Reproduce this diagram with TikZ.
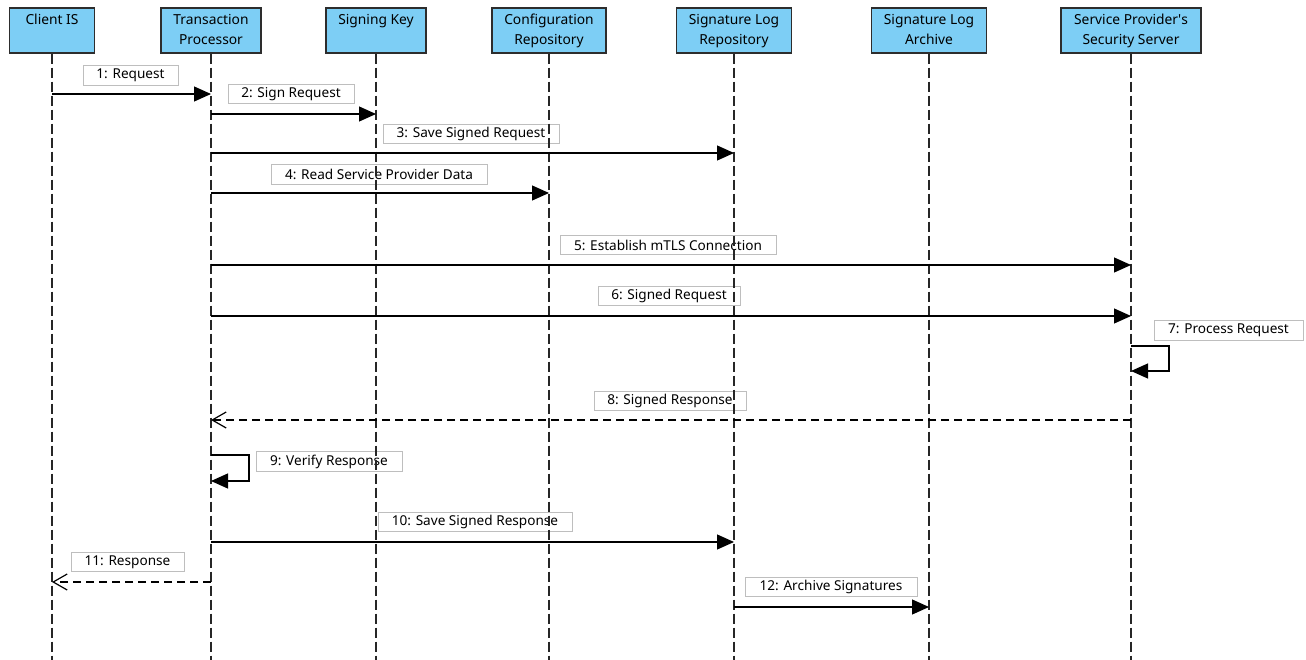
\documentclass[tikz,border=0pt]{standalone}
\usepackage{fontspec}
\setmainfont{Noto Sans}
\usetikzlibrary{arrows.meta}
\definecolor{headblue}{RGB}{125,206,245}
\definecolor{headline}{RGB}{45,45,45}
\definecolor{labelline}{RGB}{190,190,190}

\begin{document}
\begin{tikzpicture}[x=1pt,y=-1pt,
  actor/.style={draw=headline, line width=1.2pt, fill=headblue, minimum height=45pt,
                inner sep=0pt, align=center, font=\fontsize{13.8}{20}\selectfont},
  lifeline/.style={draw=black!85, line width=1.3pt, dash pattern=on 10pt off 4pt},
  msglabel/.style={draw=labelline, line width=0.8pt, fill=white, minimum height=19.5pt,
                   inner sep=0pt, font=\fontsize{13.6}{16}\selectfont},
  call/.style={draw=black, line width=1.2pt, -{Triangle[length=17pt,width=15pt]}},
  reply/.style={draw=black, line width=1.2pt, dash pattern=on 8pt off 5pt,
                -{Straight Barb[length=14pt,width=16pt,line width=1.2pt]}},
]
\useasboundingbox (0,0) rectangle (1306,660);

% participants (each line carries a strut so the two-line blocks sit alike)
\node[actor, minimum width=85pt]  (ci)  at (52,30.5)   {Client IS\strut\\\strut};
\node[actor, minimum width=100pt] (tp)  at (211,30.5)  {Transaction\strut\\Processor\strut};
\node[actor, minimum width=100pt] (sk)  at (376,30.5)  {Signing Key\strut\\\strut};
\node[actor, minimum width=114pt] (cr)  at (549,30.5)  {Configuration\strut\\Repository\strut};
\node[actor, minimum width=115pt] (slr) at (734,30.5)  {Signature Log\strut\\Repository\strut};
\node[actor, minimum width=115pt] (sla) at (929,30.5)  {Signature Log\strut\\Archive\strut};
\node[actor, minimum width=140pt] (ss)  at (1131,30.5) {Service Provider\textquotesingle s\strut\\Security Server\strut};

% message labels
\node[msglabel, minimum width=95pt]  (l1)  at (130.5,75.5)  {1: Request};
\node[msglabel, minimum width=126pt] (l2)  at (291,94)      {2: Sign Request};
\node[msglabel, minimum width=176pt] (l3)  at (471,134)     {3: Save Signed Request};
\node[msglabel, minimum width=216pt] (l4)  at (379,174.5)   {4: Read Service Provider Data};
\node[msglabel, minimum width=216pt] (l5)  at (668,245)     {5: Establish mTLS Connection};
\node[msglabel, minimum width=142pt] (l6)  at (669,296)     {6: Signed Request};
\node[msglabel, minimum width=149pt] (l7)  at (1228.5,330.5){7: Process Request};
\node[msglabel, minimum width=152pt] (l8)  at (670,401)     {8: Signed Response};
\node[msglabel, minimum width=146pt] (l9)  at (329,461.5)   {9: Verify Response};
\node[msglabel, minimum width=194pt] (l10) at (475,522)     {10: Save Signed Response};
\node[msglabel, minimum width=113pt] (l11) at (127.5,562)   {11: Response};
\node[msglabel, minimum width=172pt] (l12) at (831,587)     {12: Archive Signatures};

% lifelines
\foreach \p in {ci,tp,sk,cr,slr,sla,ss}{
  \coordinate (\p-end) at (\p.south |- 0,660);
  \draw[lifeline] (\p.south) -- (\p-end);
}

% messages
\draw[call]  (ci |- 0,94)   -- (tp |- 0,94);
\draw[call]  (tp |- 0,114)  -- (sk |- 0,114);
\draw[call]  (tp |- 0,153)  -- (slr |- 0,153);
\draw[call]  (tp |- 0,193)  -- (cr |- 0,193);
\draw[call]  (tp |- 0,265)  -- (ss |- 0,265);
\draw[call]  (tp |- 0,316)  -- (ss |- 0,316);
\draw[call]  (ss |- 0,346)  -- ++(38,0) -- ++(0,25) -- (ss |- 0,371);
\draw[reply] (ss |- 0,420)  -- (tp |- 0,420);
\draw[call]  (tp |- 0,455)  -- ++(38,0) -- ++(0,26) -- (tp |- 0,481);
\draw[call]  (tp |- 0,542)  -- (slr |- 0,542);
\draw[reply] (tp |- 0,582)  -- (ci |- 0,582);
\draw[call]  (slr |- 0,607) -- (sla |- 0,607);
\end{tikzpicture}
\end{document}
